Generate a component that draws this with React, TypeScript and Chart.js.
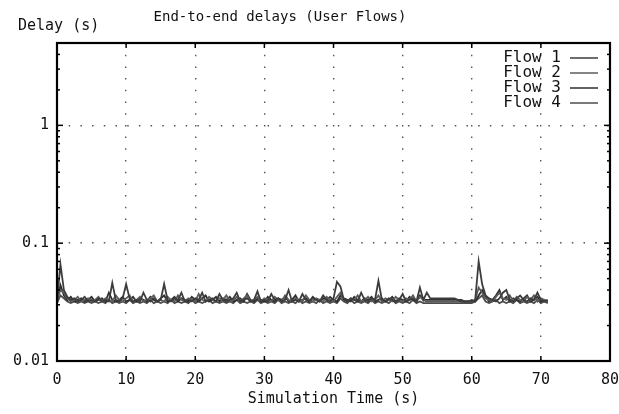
import React, { useEffect, useRef } from "react";
import { Chart, registerables } from "chart.js";

Chart.register(...registerables);

const chartTitle = "End-to-end delays (User Flows)";
const yAxisTitle = "Delay (s)";
const xAxisTitle = "Simulation Time (s)";

const xTickValues = [0, 10, 20, 30, 40, 50, 60, 70, 80];
const yTickValues = [0.01, 0.1, 1];
const yTickLabels = ["0.01", "0.1", "1"];
const yMinorTicks = [
  0.02, 0.03, 0.04, 0.05, 0.06, 0.07, 0.08, 0.09,
  0.2, 0.3, 0.4, 0.5, 0.6, 0.7, 0.8, 0.9,
  2, 3, 4, 5,
];

const flowLabels = ["Flow 1", "Flow 2", "Flow 3", "Flow 4"];
const flowColors = ["#3c3c3c", "#5c5c5c", "#2e2e2e", "#4c4c4c"];

// simulation time (s)
const time = [
  0, 0.5, 1, 1.5, 2, 2.5, 3, 3.5, 4, 4.5,
  5, 5.5, 6, 6.5, 7, 7.5, 8, 8.5, 9, 9.5,
  10, 10.5, 11, 11.5, 12, 12.5, 13, 13.5, 14, 14.5,
  15, 15.5, 16, 16.5, 17, 17.5, 18, 18.5, 19, 19.5,
  20, 20.5, 21, 21.5, 22, 22.5, 23, 23.5, 24, 24.5,
  25, 25.5, 26, 26.5, 27, 27.5, 28, 28.5, 29, 29.5,
  30, 30.5, 31, 31.5, 32, 32.5, 33, 33.5, 34, 34.5,
  35, 35.5, 36, 36.5, 37, 37.5, 38, 38.5, 39, 39.5,
  40, 40.5, 41, 41.5, 42, 42.5, 43, 43.5, 44, 44.5,
  45, 45.5, 46, 46.5, 47, 47.5, 48, 48.5, 49, 49.5,
  50, 50.5, 51, 51.5, 52, 52.5, 53, 53.5, 54, 54.5,
  55, 55.5, 56, 56.5, 57, 57.5, 58, 58.5, 59, 59.5,
  60, 60.5, 61, 61.5, 62, 62.5, 63, 63.5, 64, 64.5,
  65, 65.5, 66, 66.5, 67, 67.5, 68, 68.5, 69, 69.5,
  70, 70.5, 71,
];

// delays in milliseconds
const flow1DelayMs = [
  32, 66, 40, 35, 33, 34, 32, 33, 35, 32,
  33, 32, 34, 32, 33, 32, 46, 33, 32, 34,
  45, 34, 32, 33, 32, 38, 33, 32, 34, 32,
  33, 45, 33, 32, 34, 33, 38, 32, 33, 32,
  34, 33, 38, 32, 33, 34, 32, 37, 33, 32,
  33, 34, 38, 32, 33, 34, 32, 33, 39, 32,
  33, 32, 37, 33, 34, 32, 33, 40, 32, 33,
  32, 37, 33, 32, 34, 33, 32, 36, 33, 32,
  34, 47, 43, 33, 32, 34, 33, 32, 38, 33,
  32, 34, 33, 48, 33, 32, 34, 33, 32, 33,
  37, 32, 33, 34, 32, 42, 33, 38, 34, 34,
  34, 34, 34, 34, 34, 34, 33, 32, 32, 32,
  32, 33, 70, 45, 36, 34, 33, 32, 34, 38,
  40, 33, 32, 34, 36, 33, 32, 34, 33, 38,
  33, 32, 33,
];

const flow2DelayMs = [
  33, 40, 38, 34, 32, 33, 35, 32, 33, 34,
  32, 33, 35, 32, 34, 33, 32, 36, 33, 32,
  34, 36, 32, 33, 35, 32, 33, 34, 36, 32,
  33, 32, 35, 33, 32, 36, 33, 32, 34, 33,
  32, 37, 33, 32, 35, 33, 32, 34, 33, 36,
  32, 33, 35, 32, 34, 36, 32, 33, 35, 32,
  34, 33, 32, 35, 33, 32, 36, 33, 32, 34,
  33, 32, 36, 33, 32, 34, 33, 32, 35, 33,
  32, 35, 38, 33, 32, 34, 33, 36, 32, 33,
  35, 32, 33, 36, 32, 34, 33, 32, 35, 33,
  32, 34, 33, 36, 32, 35, 33, 32, 32, 32,
  32, 32, 32, 32, 32, 32, 32, 32, 32, 32,
  32, 33, 42, 38, 34, 33, 32, 35, 38, 34,
  33, 36, 32, 35, 33, 32, 35, 33, 36, 32,
  34, 33, 32,
];

const flow3DelayMs = [
  32, 44, 36, 33, 35, 32, 33, 34, 32, 33,
  35, 32, 33, 34, 32, 38, 33, 32, 33, 35,
  32, 33, 35, 32, 34, 33, 32, 35, 33, 32,
  34, 36, 32, 33, 35, 32, 34, 33, 32, 35,
  33, 32, 34, 36, 32, 33, 35, 32, 34, 33,
  35, 32, 33, 34, 32, 37, 33, 32, 34, 33,
  32, 35, 33, 32, 34, 33, 35, 32, 33, 36,
  32, 33, 34, 32, 35, 33, 32, 34, 33, 35,
  33, 32, 36, 34, 33, 32, 35, 33, 32, 34,
  33, 35, 32, 33, 34, 32, 33, 35, 32, 34,
  33, 32, 35, 33, 32, 36, 33, 33, 33, 33,
  33, 33, 33, 33, 33, 33, 33, 33, 32, 32,
  33, 32, 36, 40, 35, 32, 33, 36, 40, 33,
  35, 32, 34, 33, 32, 34, 36, 32, 33, 35,
  32, 33, 32,
];

const flow4DelayMs = [
  31, 36, 34, 32, 31, 32, 31, 32, 31, 32,
  31, 32, 31, 32, 31, 33, 31, 32, 31, 32,
  31, 33, 31, 32, 31, 32, 31, 33, 31, 32,
  31, 32, 31, 33, 31, 32, 31, 32, 31, 33,
  31, 32, 31, 32, 33, 31, 32, 31, 32, 31,
  32, 31, 33, 31, 32, 31, 32, 31, 33, 31,
  32, 31, 32, 31, 33, 31, 32, 31, 32, 31,
  33, 31, 32, 31, 32, 31, 33, 31, 32, 31,
  32, 31, 34, 32, 31, 33, 31, 32, 31, 32,
  31, 33, 31, 32, 31, 32, 31, 33, 31, 32,
  31, 32, 31, 33, 31, 32, 31, 31, 31, 31,
  31, 31, 31, 31, 31, 31, 31, 31, 31, 31,
  31, 32, 34, 36, 32, 31, 32, 33, 31, 32,
  31, 32, 31, 33, 31, 32, 31, 32, 31, 33,
  31, 32, 31,
];

const flowDelaysMs = [flow1DelayMs, flow2DelayMs, flow3DelayMs, flow4DelayMs];

const MONO = '"DejaVu Sans Mono", "Liberation Mono", monospace';

const gnuplotPlugin = {
  id: "gnuplotFrame",
  afterDraw(chart: any) {
    const { ctx, chartArea, scales } = chart;
    const { left, right, top, bottom } = chartArea;
    const xs = scales.x;
    const ys = scales.y;
    ctx.save();
    ctx.strokeStyle = "#000";
    ctx.lineWidth = 1.5;
    const seg = (x1: number, y1: number, x2: number, y2: number) => {
      ctx.beginPath();
      ctx.moveTo(x1, y1);
      ctx.lineTo(x2, y2);
      ctx.stroke();
    };
    for (const v of xTickValues) {
      const px = xs.getPixelForValue(v);
      seg(px, bottom, px, bottom - 5);
      seg(px, top, px, top + 5);
    }
    for (const v of yTickValues) {
      const py = ys.getPixelForValue(v);
      seg(left, py, left + 6, py);
      seg(right, py, right - 6, py);
    }
    for (const v of yMinorTicks) {
      const py = ys.getPixelForValue(v);
      seg(left, py, left + 3, py);
      seg(right, py, right - 3, py);
    }
    ctx.lineWidth = 2.2;
    ctx.strokeRect(left, top, right - left, bottom - top);

    // legend (gnuplot key)
    ctx.font = `16px ${MONO}`;
    ctx.textBaseline = "middle";
    ctx.textAlign = "right";
    chart.data.datasets.forEach((ds: any, i: number) => {
      const yy = top + 15 + i * 15;
      ctx.fillStyle = "#111";
      ctx.fillText(ds.label, right - 49, yy);
      ctx.strokeStyle = ds.borderColor;
      ctx.lineWidth = 1.5;
      seg(right - 40, yy, right - 12, yy);
    });

    // titles
    ctx.fillStyle = "#111";
    ctx.font = `14px ${MONO}`;
    ctx.textAlign = "center";
    ctx.fillText(chartTitle, 280, 17);
    ctx.font = `15px ${MONO}`;
    ctx.textAlign = "left";
    ctx.fillText(yAxisTitle, 18, 26);
    ctx.restore();
  },
};

export default function App() {
  const canvasRef = useRef<HTMLCanvasElement | null>(null);

  useEffect(() => {
    document.body.style.margin = "0";
    const canvas = canvasRef.current;
    if (!canvas) return;
    const datasets = flowLabels.map((label, i) => ({
      label,
      data: time.map((t, j) => ({ x: t, y: flowDelaysMs[i][j] / 1000 })),
      borderColor: flowColors[i],
      backgroundColor: flowColors[i],
      borderWidth: 1.8,
      pointRadius: 0,
      tension: 0,
      fill: false,
    }));
    const chart = new Chart(canvas, {
      type: "line",
      data: { datasets },
      options: {
        animation: false,
        responsive: true,
        maintainAspectRatio: false,
        layout: { padding: { top: 43, right: 9, left: 0, bottom: 0 } },
        plugins: {
          legend: { display: false },
          title: { display: false },
          tooltip: { enabled: false },
        },
        scales: {
          x: {
            type: "linear",
            min: 0,
            max: 80,
            afterFit: (s: any) => {
              s.height = 53;
              s.paddingLeft = 0;
              s.paddingRight = 0;
            },
            afterBuildTicks: (s: any) => {
              s.ticks = xTickValues.map((v) => ({ value: v }));
            },
            ticks: {
              autoSkip: false,
              maxRotation: 0,
              padding: 10,
              color: "#111",
              font: { family: MONO, size: 15 },
              callback: (v: any) => String(v),
            },
            grid: {
              drawTicks: false,
              color: "#555",
              lineWidth: 1.4,
            },
            border: { display: false, dash: [1.5, 10.2] },
            title: {
              display: true,
              text: xAxisTitle,
              color: "#111",
              font: { family: MONO, size: 15 },
              padding: { top: 0, bottom: 6 },
            },
          },
          y: {
            type: "logarithmic",
            min: 0.01,
            max: 5,
            afterFit: (s: any) => {
              s.width = 57;
              s.paddingTop = 0;
              s.paddingBottom = 0;
            },
            afterBuildTicks: (s: any) => {
              s.ticks = yTickValues.map((v) => ({ value: v }));
            },
            ticks: {
              autoSkip: false,
              padding: 8,
              color: "#111",
              font: { family: MONO, size: 15 },
              callback: (_v: any, idx: number) => yTickLabels[idx],
            },
            grid: {
              drawTicks: false,
              color: "#555",
              lineWidth: 1.4,
            },
            border: { display: false, dash: [1.5, 10.2] },
          },
        },
      },
      plugins: [gnuplotPlugin],
    });
    return () => chart.destroy();
  }, []);

  return (
    <div style={{ position: "relative", width: 619, height: 414, background: "#fff" }}>
      <canvas ref={canvasRef} />
    </div>
  );
}
